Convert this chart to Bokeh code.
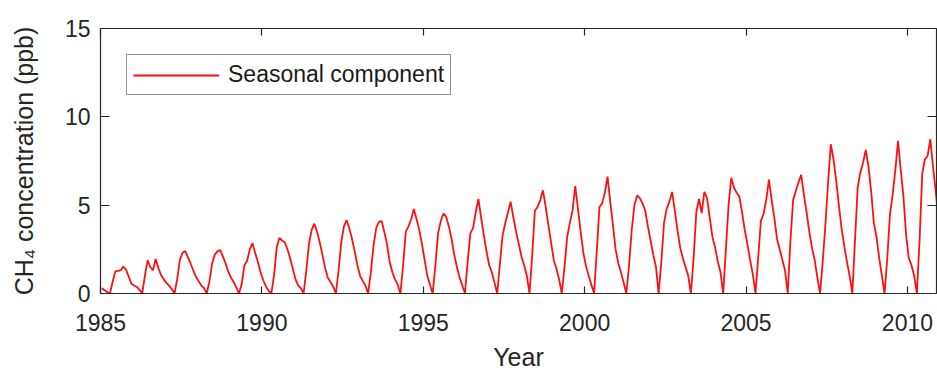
from bokeh.plotting import figure
from bokeh.models import LinearAxis, FixedTicker, Range1d, ColumnDataSource, CustomJSTickFormatter
from bokeh.embed import file_html
from bokeh.resources import INLINE

# ---- data (monthly seasonal component, ppb; Jan..Dec per year) ----
years = list(range(1985, 2011))
seasonal_1985 = [0.30, 0.18, 0.08, 0.0, 0.65, 1.25, 1.28, 1.32, 1.52, 1.35, 0.95, 0.55]
seasonal_1986 = [0.45, 0.37, 0.20, 0.0, 1.00, 1.88, 1.50, 1.32, 1.95, 1.45, 1.05, 0.80]
seasonal_1987 = [0.60, 0.45, 0.25, 0.0, 0.80, 1.90, 2.30, 2.40, 2.05, 1.70, 1.30, 0.95]
seasonal_1988 = [0.70, 0.45, 0.30, 0.0, 0.70, 1.70, 2.20, 2.40, 2.45, 2.10, 1.70, 1.25]
seasonal_1989 = [0.90, 0.65, 0.35, 0.0, 0.55, 1.60, 1.85, 2.50, 2.85, 2.30, 1.80, 1.20]
seasonal_1990 = [0.75, 0.40, 0.15, 0.0, 1.00, 2.60, 3.15, 3.00, 2.90, 2.50, 2.00, 1.40]
seasonal_1991 = [0.80, 0.45, 0.30, 0.0, 1.30, 2.80, 3.60, 3.95, 3.50, 2.90, 2.20, 1.45]
seasonal_1992 = [0.90, 0.65, 0.40, 0.0, 1.30, 2.90, 3.80, 4.15, 3.70, 3.10, 2.40, 1.60]
seasonal_1993 = [1.00, 0.70, 0.45, 0.0, 1.20, 2.70, 3.70, 4.05, 4.10, 3.50, 2.80, 1.80]
seasonal_1994 = [1.20, 0.80, 0.50, 0.0, 1.60, 3.50, 3.80, 4.20, 4.78, 4.20, 3.60, 2.80]
seasonal_1995 = [1.90, 1.00, 0.50, 0.0, 1.60, 3.40, 4.10, 4.53, 4.35, 3.80, 3.10, 2.20]
seasonal_1996 = [1.50, 0.90, 0.45, 0.0, 1.80, 3.40, 3.70, 4.60, 5.35, 4.30, 3.30, 2.40]
seasonal_1997 = [1.60, 1.20, 0.60, 0.0, 1.70, 3.30, 4.00, 4.60, 5.19, 4.30, 3.50, 2.80]
seasonal_1998 = [2.10, 1.60, 1.00, 0.0, 2.20, 4.70, 4.90, 5.30, 5.84, 4.90, 3.90, 2.90]
seasonal_1999 = [1.90, 1.40, 0.80, 0.0, 1.50, 3.20, 4.00, 4.70, 6.08, 4.80, 3.50, 2.30]
seasonal_2000 = [1.55, 1.00, 0.50, 0.0, 2.40, 4.90, 5.10, 5.70, 6.62, 5.20, 3.90, 2.50]
seasonal_2001 = [1.70, 1.20, 0.60, 0.0, 1.60, 3.60, 5.00, 5.55, 5.40, 5.10, 4.70, 3.80]
seasonal_2002 = [3.00, 2.20, 1.50, 0.0, 1.80, 4.00, 4.80, 5.20, 5.75, 4.70, 3.60, 2.60]
seasonal_2003 = [2.00, 1.50, 1.00, 0.0, 2.00, 4.60, 5.35, 4.55, 5.75, 5.40, 4.30, 3.20]
seasonal_2004 = [2.60, 1.80, 1.20, 0.0, 2.50, 5.00, 6.55, 6.00, 5.70, 5.50, 4.60, 3.60]
seasonal_2005 = [2.80, 1.90, 1.10, 0.0, 2.00, 4.10, 4.50, 5.30, 6.45, 5.30, 4.30, 3.10]
seasonal_2006 = [2.50, 1.90, 1.30, 0.0, 3.00, 5.30, 5.80, 6.30, 6.72, 5.60, 4.60, 3.50]
seasonal_2007 = [2.60, 1.90, 0.90, 0.0, 1.80, 3.90, 6.30, 8.45, 7.60, 6.40, 5.00, 3.70]
seasonal_2008 = [2.70, 1.80, 1.00, 0.0, 3.00, 6.00, 6.87, 7.40, 8.13, 7.20, 5.80, 4.00]
seasonal_2009 = [3.20, 2.00, 1.00, 0.0, 2.00, 4.50, 5.60, 7.00, 8.64, 7.00, 5.50, 3.30]
seasonal_2010 = [2.00, 1.60, 1.00, 0.0, 3.00, 6.80, 7.60, 7.80, 8.73, 7.20, 5.80, 4.30]

x_ticks = [1985, 1990, 1995, 2000, 2005, 2010]
y_ticks = [0, 5, 10, 15]
series_label = "Seasonal component"

per_year = [seasonal_1985, seasonal_1986, seasonal_1987, seasonal_1988, seasonal_1989,
            seasonal_1990, seasonal_1991, seasonal_1992, seasonal_1993, seasonal_1994,
            seasonal_1995, seasonal_1996, seasonal_1997, seasonal_1998, seasonal_1999,
            seasonal_2000, seasonal_2001, seasonal_2002, seasonal_2003, seasonal_2004,
            seasonal_2005, seasonal_2006, seasonal_2007, seasonal_2008, seasonal_2009,
            seasonal_2010]

t, v = [], []
for yr, vals in zip(years, per_year):
    for m, val in enumerate(vals):
        t.append(yr + (m + 0.5) / 12.0)
        v.append(val)
src = ColumnDataSource(dict(t=t, v=v))

AX = "#262626"
FONT = "Liberation Sans"

p = figure(width=937, height=373, output_backend="svg", toolbar_location=None,
           x_range=Range1d(1985, 2010.9), y_range=Range1d(0, 15),
           min_border_left=100, min_border_right=1, min_border_top=28, min_border_bottom=77)
p.background_fill_color = "white"
p.border_fill_color = "white"
p.outline_line_color = None
p.grid.visible = False

p.line("t", "v", source=src, line_color="#ff1010", line_width=1.8, legend_label=series_label)

for ax in p.xaxis:
    ax.ticker = FixedTicker(ticks=x_ticks)
    ax.axis_label = "Year"
for ax in p.yaxis:
    ax.ticker = FixedTicker(ticks=y_ticks)
    ax.axis_label = "CH\u2084 concentration (ppb)"

for ax in list(p.xaxis) + list(p.yaxis):
    ax.axis_line_color = AX
    ax.axis_line_width = 1.2
    ax.major_tick_line_color = AX
    ax.major_tick_line_width = 1.2
    ax.major_tick_out = 0
    ax.minor_tick_line_color = None
    ax.major_label_text_font = FONT
    ax.major_label_text_font_size = "23px"
    ax.major_label_text_color = AX
    ax.axis_label_text_font = FONT
    ax.axis_label_text_font_size = "25px"
    ax.axis_label_text_font_style = "normal"
    ax.axis_label_text_color = AX

p.xaxis.major_tick_in = 7
p.xaxis.major_label_standoff = 20
p.xaxis.axis_label_standoff = 9
p.yaxis.major_tick_in = 9
p.yaxis.major_label_standoff = 10
p.yaxis.axis_label_standoff = 24

blank = CustomJSTickFormatter(code="return ''")
top = LinearAxis(ticker=FixedTicker(ticks=x_ticks), major_tick_in=7, major_tick_out=0,
                 formatter=blank, major_label_text_font_size="1px", major_label_standoff=0,
                 axis_line_color=AX, axis_line_width=1.2, major_tick_line_color=AX,
                 major_tick_line_width=1.2, minor_tick_line_color=None)
right = LinearAxis(ticker=FixedTicker(ticks=y_ticks), major_tick_in=9, major_tick_out=0,
                   formatter=blank, major_label_text_font_size="1px", major_label_standoff=0,
                   axis_line_color=AX, axis_line_width=1.2, major_tick_line_color=AX,
                   major_tick_line_width=1.2, minor_tick_line_color=None)
p.add_layout(top, "above")
p.add_layout(right, "right")

lg = p.legend[0]
lg.location = (26, 198)
lg.margin = 0
lg.padding = 6
lg.spacing = 0
lg.glyph_width = 86
lg.glyph_height = 24
lg.label_standoff = 9
lg.label_text_font = FONT
lg.label_text_font_size = "23px"
lg.label_text_color = "#1a1a1a"
lg.border_line_color = AX
lg.border_line_width = 1.2
lg.background_fill_color = "white"
lg.background_fill_alpha = 1.0

open("out.html", "w").write(file_html(p, INLINE))
